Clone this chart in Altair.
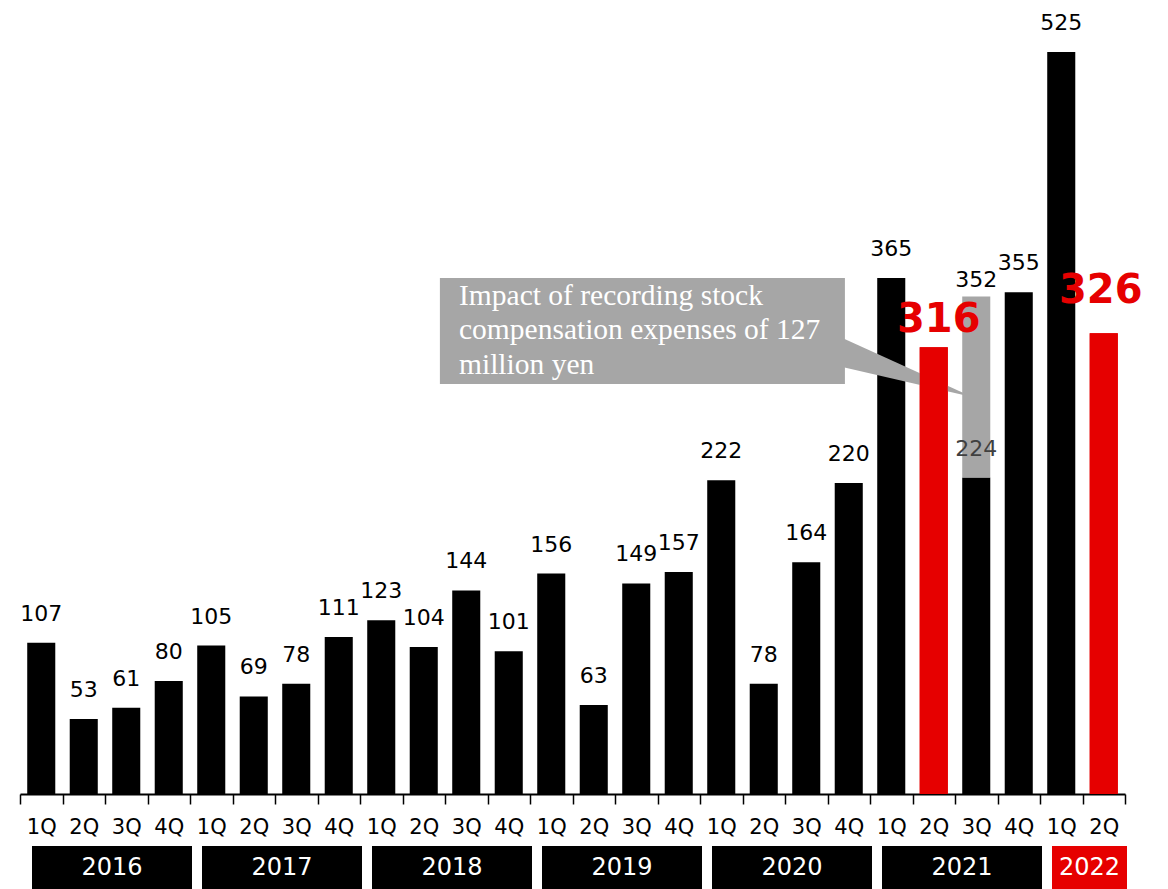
import altair as alt
import pandas as pd

# ---------------- data ----------------
years = ["2016"] * 4 + ["2017"] * 4 + ["2018"] * 4 + ["2019"] * 4 + ["2020"] * 4 + ["2021"] * 4 + ["2022"] * 2
quarters = ["1Q", "2Q", "3Q", "4Q"] * 6 + ["1Q", "2Q"]
values = [107, 53, 61, 80,
          105, 69, 78, 111,
          123, 104, 144, 101,
          156, 63, 149, 157,
          222, 78, 164, 220,
          365, 316, 224, 355,
          525, 326]
red_keys = ["2021 2Q", "2022 2Q"]
stock_key = "2021 3Q"
stock_total = 352
note_text = "Impact of recording stock\ncompensation expenses of 127\nmillion yen"

year_list = ["2016", "2017", "2018", "2019", "2020", "2021", "2022"]
year_colors = ["#000000"] * 6 + ["#E60000"]

BLACK = "#000000"
RED = "#E60000"
GRAY = "#A6A6A6"
FONT = "DejaVu Sans"

keys = [f"{y} {q}" for y, q in zip(years, quarters)]
kinds = []
for k in keys:
    if k in red_keys:
        kinds.append("red")
    elif k == stock_key:
        kinds.append("stock")
    else:
        kinds.append("normal")

df = pd.DataFrame({"key": keys, "year": years, "q": quarters, "value": values, "kind": kinds})
df["total"] = [stock_total if k == stock_key else v for k, v in zip(keys, values)]

yr_rows = []
for y, c in zip(year_list, year_colors):
    ks = [k for k, yy in zip(keys, years) if yy == y]
    mid = ks[1] if len(ks) == 4 else ks[0]
    yr_rows.append({"year": y, "first": ks[0], "last": ks[-1], "mid": mid, "color": c})
ydf = pd.DataFrame(yr_rows)

# annotation, in bar-index (x) and value (y) units
box_df = pd.DataFrame({"x0": [9.88], "x1": [19.41], "ytop": [365.0], "ybot": [290.0]})
ptr_df = pd.DataFrame({"px": [19.35, 22.2], "top": [322.6, 283.7], "bot": [302.1, 282.3]})
note_df = pd.DataFrame({"px": [10.33], "py": [346.0], "txt": [note_text]})

# ---------------- scales ----------------
W, H = 1105, 774
yscale = alt.Scale(domain=[0, 547.6], nice=False, zero=True)
xscale = alt.Scale(domain=keys, paddingInner=0, paddingOuter=0)
xaxis = alt.Axis(title=None, domainColor=BLACK, domainWidth=2, tickColor=BLACK, tickWidth=1.5,
                 tickSize=10, tickBand="extent", labelFont=FONT, labelFontSize=21, labelColor=BLACK,
                 labelPadding=12, labelAngle=0, labelExpr="slice(datum.label, 5)", grid=False)
qscale = alt.Scale(domain=[0, 26], nice=False, zero=False)
BARW = alt.RelativeBandSize(0.66)


def X(field="key", axis=True, **kw):
    return alt.X(f"{field}:N", scale=xscale, axis=xaxis if axis else None, sort=keys, **kw)


def Y(field="value"):
    return alt.Y(f"{field}:Q", scale=yscale, axis=None)


color_scale = alt.Scale(domain=["normal", "red", "stock"], range=[BLACK, RED, BLACK])

base = alt.Chart(df)

# bottom group (carries the x axis)
bars = base.mark_bar(width=BARW).encode(
    x=X(), y=Y(),
    color=alt.Color("kind:N", scale=color_scale, legend=None),
)
gray_seg = base.transform_filter(alt.datum.kind == "stock").mark_bar(color=GRAY, width=BARW).encode(
    x=X(), y=Y(), y2="total:Q"
)

# top group (same x scale definition, no axis)
red_bars = base.transform_filter(alt.datum.kind == "red").mark_bar(color=RED, width=BARW).encode(
    x=X(axis=False), y=Y()
)
lab_normal = base.transform_filter(alt.datum.kind == "normal").mark_text(
    font=FONT, fontSize=22, color=BLACK, baseline="alphabetic", dy=-22
).encode(x=X(axis=False), y=Y(), text="value:Q")
lab_224 = base.transform_filter(alt.datum.kind == "stock").mark_text(
    font=FONT, fontSize=22, color="#404040", baseline="alphabetic", dy=-21
).encode(x=X(axis=False), y=Y(), text="value:Q")
lab_352 = base.transform_filter(alt.datum.kind == "stock").mark_text(
    font=FONT, fontSize=22, color=BLACK, baseline="alphabetic", dy=-9
).encode(x=X(axis=False), y=Y("total"), text="total:Q")
lab_316 = base.transform_filter(alt.datum.key == red_keys[0]).mark_text(
    font=FONT, fontSize=40, fontWeight="bold", color=RED, baseline="alphabetic", dy=-15, dx=5
).encode(x=X(axis=False), y=Y(), text="value:Q")
lab_326 = base.transform_filter(alt.datum.key == red_keys[1]).mark_text(
    font=FONT, fontSize=40, fontWeight="bold", color=RED, baseline="alphabetic", dy=-30, dx=-3
).encode(x=X(axis=False), y=Y(), text="value:Q")

ybase = alt.Chart(ydf)
year_boxes = ybase.mark_rect(xOffset=12, x2Offset=2).encode(
    x=X("first", axis=False, bandPosition=0),
    x2=alt.X2("last:N", bandPosition=1),
    y=alt.value(826),
    y2=alt.value(872),
    color=alt.Color("color:N", scale=None, legend=None),
)
year_text = ybase.mark_text(font=FONT, fontSize=24, color="white", baseline="middle", dx=7).encode(
    x=X("mid", axis=False, bandPosition=1),
    y=alt.value(848),
    text="year:N",
)

# annotation (quantitative x)
box = alt.Chart(box_df).mark_rect(color=GRAY).encode(
    x=alt.X("x0:Q", scale=qscale, axis=None), x2="x1:Q",
    y=Y("ytop"), y2="ybot:Q",
)
pointer = alt.Chart(ptr_df).mark_area(color=GRAY, opacity=1).encode(
    x=alt.X("px:Q", scale=qscale, axis=None),
    y=Y("top"), y2="bot:Q",
)
note = alt.Chart(note_df).mark_text(
    font="Liberation Serif", fontSize=29.5, color="white", align="left", baseline="alphabetic",
    lineBreak="\n", lineHeight=34.5
).encode(
    x=alt.X("px:Q", scale=qscale, axis=None),
    y=Y("py"),
    text="txt:N",
)

band_bottom = alt.layer(bars, gray_seg)
quant_layer = alt.layer(pointer)
band_top = alt.layer(red_bars, lab_normal, lab_224, lab_352, lab_316, lab_326, year_boxes, year_text)
quant_top = alt.layer(box, note)

chart = alt.layer(
    band_bottom, quant_layer, band_top, quant_top
).resolve_scale(x="independent").resolve_axis(x="independent").properties(
    width=W, height=H,
    autosize=alt.AutoSizeParams(type="none"),
    padding={"left": 20, "top": 20, "right": 43, "bottom": 95},
    background="white",
).configure_view(stroke=None)

chart.save("out.html", embed_options={"renderer": "svg", "actions": False})
